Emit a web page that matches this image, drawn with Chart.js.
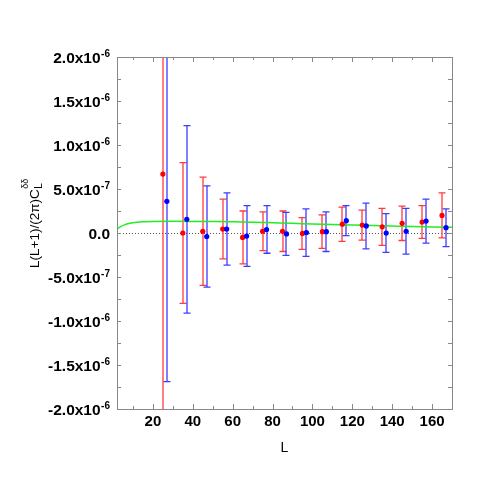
<!DOCTYPE html>
<html>
<head>
<meta charset="utf-8">
<script src="https://cdn.jsdelivr.net/npm/chart.js@4/dist/chart.umd.min.js"></script>
<style>
  body { margin: 0; background: #fff; }
</style>
</head>
<body>
<canvas id="myChart" width="491" height="491"></canvas>
<script>
// measured points (red) and second estimator (blue), offset by 2 in L
var redL = [25, 35, 45, 55, 65, 75, 85, 95, 105, 115, 125, 135, 145, 155, 165];
var redY = [6.7e-7, 0.0, 0.2e-7, 0.45e-7, -0.5e-7, 0.2e-7, 0.2e-7, -0.05e-7, 0.15e-7, 1.0e-7, 0.9e-7, 0.7e-7, 1.1e-7, 1.25e-7, 2.0e-7];
var redErr = [3.0e-6, 8.0e-7, 6.15e-7, 3.4e-7, 3.0e-7, 2.2e-7, 2.3e-7, 1.8e-7, 1.9e-7, 1.95e-7, 1.7e-7, 2.1e-7, 1.95e-7, 1.85e-7, 2.55e-7];

var blueL = [27, 37, 47, 57, 67, 77, 87, 97, 107, 117, 127, 137, 147, 157, 167];
var blueY = [3.6e-7, 1.55e-7, -0.4e-7, 0.45e-7, -0.35e-7, 0.4e-7, -0.1e-7, 0.05e-7, 0.15e-7, 1.4e-7, 0.8e-7, 0.0, 0.2e-7, 1.35e-7, 0.6e-7];
var blueErr = [2.05e-6, 1.065e-6, 5.75e-7, 4.1e-7, 3.45e-7, 2.7e-7, 2.45e-7, 2.7e-7, 2.25e-7, 1.7e-7, 2.6e-7, 2.2e-7, 2.6e-7, 2.5e-7, 2.15e-7];

// theory curve (green)
var theoryL = [2, 4, 6, 8, 10, 15, 20, 30, 40, 50, 60, 70, 80, 90, 100, 110, 120, 130, 140, 150, 160, 170];
var theoryY = [0.45e-7, 0.75e-7, 0.95e-7, 1.08e-7, 1.17e-7, 1.28e-7, 1.32e-7, 1.33e-7, 1.32e-7, 1.3e-7, 1.27e-7, 1.22e-7, 1.16e-7, 1.1e-7, 1.03e-7, 0.97e-7, 0.92e-7, 0.86e-7, 0.8e-7, 0.74e-7, 0.69e-7, 0.64e-7];

// axes
var xTicks = [20, 40, 60, 80, 100, 120, 140, 160];
var xMinorTicks = [10, 30, 50, 70, 90, 110, 130, 150, 170];
var yTicks = [-2e-6, -1.5e-6, -1e-6, -5e-7, 0, 5e-7, 1e-6, 1.5e-6, 2e-6];
var yTickBase = ['-2.0x10', '-1.5x10', '-1.0x10', '-5.0x10', '0.0', '5.0x10', '1.0x10', '1.5x10', '2.0x10'];
var yTickExp = ['-6', '-6', '-6', '-7', '', '-7', '-6', '-6', '-6'];
var yMinorTicks = [-1.75e-6, -1.25e-6, -7.5e-7, -2.5e-7, 2.5e-7, 7.5e-7, 1.25e-6, 1.75e-6];

var FONT = '"Liberation Sans", Arial, Helvetica, sans-serif';
var redBar = 'rgb(255, 60, 60)';
var blueBar = 'rgb(60, 60, 255)';

function toPoints(xs, ys) {
    return xs.map((v, i) => ({x: v, y: ys[i]}));
}

function drawErrors(ctx, x, y, xs, ys, errs, color) {
    ctx.strokeStyle = color;
    ctx.lineWidth = 1.3;
    xs.forEach((l, i) => {
        var px = Math.round(x.getPixelForValue(l));
        var top = y.getPixelForValue(ys[i] + errs[i]);
        var bot = y.getPixelForValue(ys[i] - errs[i]);
        ctx.beginPath();
        ctx.moveTo(px, top);
        ctx.lineTo(px, bot);
        ctx.moveTo(px - 3.5, top);
        ctx.lineTo(px + 3.5, top);
        ctx.moveTo(px - 3.5, bot);
        ctx.lineTo(px + 3.5, bot);
        ctx.stroke();
    });
}

const decorations = {
    id: 'decorations',
    beforeDatasetsDraw(chart) {
        const {ctx, chartArea: a, scales: {x, y}} = chart;
        ctx.save();
        ctx.beginPath();
        ctx.rect(a.left, a.top, a.right - a.left, a.bottom - a.top);
        ctx.clip();
        // zero line
        var y0 = Math.round(y.getPixelForValue(0)) + 0.5;
        ctx.strokeStyle = '#555';
        ctx.lineWidth = 1;
        ctx.setLineDash([1, 2]);
        ctx.beginPath();
        ctx.moveTo(a.left, y0);
        ctx.lineTo(a.right, y0);
        ctx.stroke();
        ctx.setLineDash([]);
        drawErrors(ctx, x, y, redL, redY, redErr, redBar);
        drawErrors(ctx, x, y, blueL, blueY, blueErr, blueBar);
        ctx.restore();
    },
    afterDraw(chart) {
        const {ctx, chartArea: a, scales: {x, y}} = chart;
        ctx.save();
        ctx.strokeStyle = '#888';
        ctx.lineWidth = 1;
        ctx.strokeRect(Math.round(a.left) + 0.5, Math.round(a.top) + 0.5,
            Math.round(a.right - a.left), Math.round(a.bottom - a.top));

        ctx.beginPath();
        function xt(v, len) {
            var px = Math.round(x.getPixelForValue(v)) + 0.5;
            ctx.moveTo(px, a.bottom); ctx.lineTo(px, a.bottom - len);
            ctx.moveTo(px, a.top); ctx.lineTo(px, a.top + len);
        }
        function yt(v, len) {
            var py = Math.round(y.getPixelForValue(v)) + 0.5;
            ctx.moveTo(a.left, py); ctx.lineTo(a.left + len, py);
            ctx.moveTo(a.right, py); ctx.lineTo(a.right - len, py);
        }
        xTicks.forEach(v => xt(v, 5));
        xMinorTicks.forEach(v => xt(v, 3));
        yTicks.forEach(v => yt(v, 4));
        yMinorTicks.forEach(v => yt(v, 4));
        ctx.stroke();

        // y tick labels with superscript exponent
        ctx.fillStyle = '#000';
        ctx.textBaseline = 'alphabetic';
        yTicks.forEach((v, i) => {
            var py = y.getPixelForValue(v) + 5.5;
            var right = a.left - 7;
            ctx.font = 'bold 10px ' + FONT;
            var ew = yTickExp[i] ? ctx.measureText(yTickExp[i]).width + 0.5 : 0;
            if (ew) {
                ctx.textAlign = 'right';
                ctx.fillText(yTickExp[i], right, py - 6);
            }
            ctx.font = 'bold 15.5px ' + FONT;
            ctx.textAlign = 'right';
            ctx.fillText(yTickBase[i], right - ew, py);
        });

        // y axis title L(L+1)/(2pi) C_L^dd
        ctx.translate(39, 268);
        ctx.rotate(-Math.PI / 2);
        ctx.textAlign = 'left';
        ctx.font = '13.5px ' + FONT;
        var main = 'L(L+1)/(2\u03c0)C';
        ctx.fillText(main, 0, 0);
        var w = ctx.measureText(main).width;
        ctx.font = '10px ' + FONT;
        ctx.fillText('L', w + 0.5, 3);
        ctx.font = '9px ' + FONT;
        ctx.fillText('\u03b4\u03b4', w + 0.5, -11);
        ctx.restore();
    }
};

const data = {
    datasets: [
        {
            label: 'red',
            data: toPoints(redL, redY),
            backgroundColor: '#ff0000',
            borderWidth: 0,
            pointRadius: 2.6,
            order: 1
        },
        {
            label: 'blue',
            data: toPoints(blueL, blueY),
            backgroundColor: '#0000ff',
            borderWidth: 0,
            pointRadius: 2.6,
            order: 0
        },
        {
            type: 'line',
            label: 'theory',
            data: toPoints(theoryL, theoryY),
            borderColor: '#22ee22',
            borderWidth: 1.5,
            pointRadius: 0,
            cubicInterpolationMode: 'monotone',
            order: 2
        }
    ]
};

const config = {
    type: 'scatter',
    data: data,
    options: {
        responsive: false,
        animation: false,
        layout: {padding: {left: 0, right: 39, top: 57, bottom: 0}},
        plugins: {legend: {display: false}, tooltip: {enabled: false}},
        scales: {
            x: {
                type: 'linear',
                min: 2,
                max: 170,
                afterBuildTicks: scale => { scale.ticks = xTicks.map(v => ({value: v})); },
                afterFit: scale => { scale.height = 82; },
                grid: {display: false},
                border: {display: false},
                ticks: {
                    color: '#000',
                    padding: -4,
                    maxRotation: 0,
                    font: {family: FONT, size: 15, weight: 'bold'}
                },
                title: {
                    display: true,
                    text: 'L',
                    color: '#000',
                    padding: {top: 0, bottom: 34},
                    font: {family: FONT, size: 14}
                }
            },
            y: {
                min: -2e-6,
                max: 2e-6,
                afterFit: scale => { scale.width = 117; },
                grid: {display: false},
                border: {display: false},
                ticks: {display: false}
            }
        }
    },
    plugins: [decorations]
};

var myChart = new Chart(document.getElementById('myChart'), config);
</script>
</body>
</html>
